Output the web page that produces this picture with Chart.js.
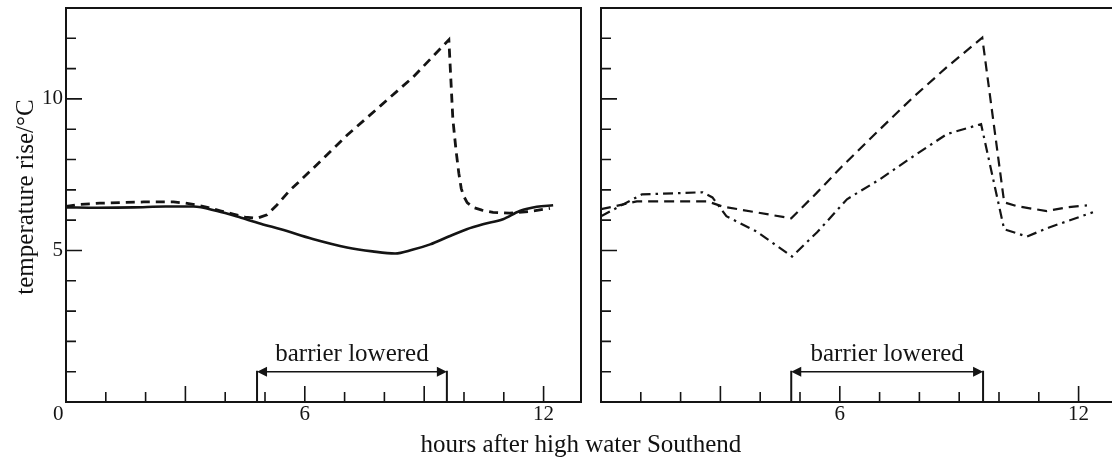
<!DOCTYPE html>
<html>
<head>
<meta charset="utf-8">
<script src="https://cdn.jsdelivr.net/npm/chart.js@4.4.1/dist/chart.umd.min.js"></script>
<style>
  html, body { margin: 0; padding: 0; background: #fff; overflow: hidden; }
  #wrap { position: relative; width: 1112px; height: 457px; overflow: hidden; }
  canvas { position: absolute; top: 0; }
  #chartLeft { left: 0; }
  #chartRight { left: 590px; }
  .axis-title { position: absolute; font-family: "Liberation Serif", serif; font-size: 25px; color: #111; white-space: nowrap; text-align: center; }
  #xTitle { left: 381px; top: 431px; width: 400px; line-height: 25px; }
  #yTitle { left: -125px; top: 182px; width: 300px; height: 30px; line-height: 30px; transform: rotate(-90deg); }
</style>
</head>
<body>
<div id="wrap">
  <canvas id="chartLeft" width="590" height="457"></canvas>
  <canvas id="chartRight" width="535" height="457"></canvas>
  <div id="yTitle" class="axis-title">temperature rise/°C</div>
  <div id="xTitle" class="axis-title">hours after high water Southend</div>
</div>
<script>
// left panel: solid and dashed
const leftSolidHours = [0, 0.8, 1.7, 2.5, 3.2, 3.8, 4.4, 4.95, 5.4, 6.2, 7.06, 7.7, 8.27, 8.7, 9.15, 9.6, 10.07, 10.5, 10.98, 11.4, 11.83, 12.24];
const leftSolidTemp  = [6.42, 6.41, 6.42, 6.45, 6.45, 6.3, 6.08, 5.86, 5.7, 5.38, 5.1, 4.97, 4.9, 5.02, 5.2, 5.45, 5.7, 5.87, 6.03, 6.3, 6.44, 6.49];

const leftDashHours = [0, 0.35, 0.85, 1.4, 1.95, 2.7, 3.0, 3.3, 3.55, 3.9, 4.2, 4.5, 4.8, 5.05, 5.3, 5.6, 6.2, 7.06, 7.9, 8.72, 9.62, 9.72, 9.8, 9.87, 9.93, 9.99, 10.08, 10.23, 10.45, 10.73, 11.15, 11.66, 12.16];
const leftDashTemp  = [6.45, 6.52, 6.56, 6.58, 6.6, 6.6, 6.56, 6.5, 6.42, 6.3, 6.2, 6.1, 6.06, 6.18, 6.5, 6.95, 7.7, 8.8, 9.77, 10.72, 11.95, 9.34, 8.3, 7.55, 7.05, 6.8, 6.58, 6.42, 6.33, 6.26, 6.23, 6.29, 6.39];

// right panel: dashed and dash-dot
const rightDashHours = [0, 0.9, 2.68, 3.05, 4.78, 5.42, 6.06, 6.93, 7.84, 8.69, 9.58, 10.13, 10.45, 11.2, 11.7, 12.21];
const rightDashTemp  = [6.36, 6.62, 6.62, 6.45, 6.06, 6.9, 7.78, 8.9, 10.05, 11.05, 12.02, 6.59, 6.46, 6.3, 6.42, 6.49];

const rightDotHours = [0, 1.03, 2.55, 2.8, 3.15, 3.9, 4.8, 5.43, 6.18, 7.01, 7.84, 8.69, 9.55, 10.13, 10.7, 11.26, 12.36];
const rightDotTemp  = [6.13, 6.85, 6.92, 6.75, 6.13, 5.63, 4.8, 5.6, 6.69, 7.35, 8.1, 8.84, 9.17, 5.7, 5.46, 5.76, 6.26];

// axes
const hourTicks = [1, 2, 3, 4, 5, 6, 7, 8, 9, 10, 11, 12];
const tempTicks = [1, 2, 3, 4, 5, 6, 7, 8, 9, 10, 11, 12];
const leftXLabels = [0, 6, 12];
const rightXLabels = [6, 12];
const leftYLabels = [5, 10];
const hourMax = 12.94;
const tempMax = 13;
const leftBarrier = [4.8, 9.57];
const rightBarrier = [4.78, 9.6];

const ink = '#141414';
const tickFont = { family: '"Liberation Serif", serif', size: 21 };

function toPoints(xs, ys) {
    return xs.map((h, i) => ({ x: h, y: ys[i] }));
}

// box, inward ticks and the barrier arrow
const framePlugin = {
    id: 'frame',
    afterDraw(chart, args, opts) {
        const { ctx, chartArea: a, scales: { x, y } } = chart;
        ctx.save();
        ctx.strokeStyle = ink;
        ctx.fillStyle = ink;
        ctx.lineWidth = 2;
        ctx.strokeRect(a.left, a.top, a.right - a.left, a.bottom - a.top);

        ctx.lineWidth = 1.6;
        ctx.beginPath();
        hourTicks.forEach(v => {
            const px = x.getPixelForValue(v);
            const len = opts.majorX.includes(v) ? 16 : 10;
            ctx.moveTo(px, a.bottom);
            ctx.lineTo(px, a.bottom - len);
        });
        tempTicks.forEach(v => {
            const py = y.getPixelForValue(v);
            const len = v % 5 === 0 ? 16 : 10;
            ctx.moveTo(a.left, py);
            ctx.lineTo(a.left + len, py);
        });
        ctx.stroke();

        const x0 = x.getPixelForValue(opts.barrier[0]);
        const x1 = x.getPixelForValue(opts.barrier[1]);
        const ya = y.getPixelForValue(1);
        ctx.lineWidth = 2;
        ctx.beginPath();
        ctx.moveTo(x0, a.bottom); ctx.lineTo(x0, ya - 1);
        ctx.moveTo(x1, a.bottom); ctx.lineTo(x1, ya - 1);
        ctx.stroke();
        ctx.lineWidth = 1.4;
        ctx.beginPath();
        ctx.moveTo(x0 + 6, ya); ctx.lineTo(x1 - 6, ya);
        ctx.stroke();
        ctx.beginPath();
        ctx.moveTo(x0, ya); ctx.lineTo(x0 + 10, ya - 5); ctx.lineTo(x0 + 10, ya + 5); ctx.closePath();
        ctx.moveTo(x1, ya); ctx.lineTo(x1 - 10, ya - 5); ctx.lineTo(x1 - 10, ya + 5); ctx.closePath();
        ctx.fill();

        ctx.font = '25px "Liberation Serif", serif';
        ctx.textAlign = 'center';
        ctx.textBaseline = 'alphabetic';
        ctx.fillText('barrier lowered', (x0 + x1) / 2, ya - 11);
        ctx.restore();
    }
};

// the "0" sits a little left of the axis corner in the original
function hourLabel(v, labels) {
    if (!labels.includes(v)) return null;
    return v === 0 ? '0   ' : String(v);
}

function makeChart(canvas, datasets, cfg) {
    return new Chart(canvas, {
        type: 'line',
        data: { datasets: datasets },
        options: {
            responsive: false,
            animation: false,
            layout: { padding: { top: 8, right: 9, left: 0, bottom: 0 } },
            elements: { point: { radius: 0 } },
            plugins: {
                legend: { display: false },
                tooltip: { enabled: false },
                frame: { majorX: cfg.majorX, barrier: cfg.barrier }
            },
            scales: {
                x: {
                    type: 'linear',
                    min: 0,
                    max: hourMax,
                    afterFit: s => { s.height = 55; s.paddingLeft = 0; s.paddingRight = 0; },
                    grid: { display: false, drawTicks: false },
                    border: { display: false },
                    ticks: {
                        stepSize: 1,
                        includeBounds: false,
                        autoSkip: false,
                        maxRotation: 0,
                        padding: 0,
                        color: ink,
                        font: tickFont,
                        callback: v => hourLabel(v, cfg.xLabels)
                    }
                },
                y: {
                    min: 0,
                    max: tempMax,
                    afterFit: s => { s.width = cfg.yWidth; s.paddingTop = 0; s.paddingBottom = 0; },
                    grid: { display: false, drawTicks: false },
                    border: { display: false },
                    ticks: {
                        stepSize: 1,
                        includeBounds: false,
                        autoSkip: false,
                        padding: 3,
                        color: ink,
                        font: tickFont,
                        callback: v => cfg.yLabels.includes(v) ? String(v) : null
                    }
                }
            }
        },
        plugins: [framePlugin]
    });
}

let leftChart = makeChart(document.getElementById('chartLeft'), [
    {
        data: toPoints(leftSolidHours, leftSolidTemp),
        borderColor: ink,
        borderWidth: 2.6,
        cubicInterpolationMode: 'monotone'
    },
    {
        data: toPoints(leftDashHours, leftDashTemp),
        borderColor: ink,
        borderWidth: 2.8,
        borderDash: [9, 6],
        tension: 0
    }
], { xLabels: leftXLabels, yLabels: leftYLabels, yWidth: 66, majorX: [3, 6, 9, 12], barrier: leftBarrier });

let rightChart = makeChart(document.getElementById('chartRight'), [
    {
        data: toPoints(rightDashHours, rightDashTemp),
        borderColor: ink,
        borderWidth: 2.2,
        borderDash: [10, 6],
        tension: 0
    },
    {
        data: toPoints(rightDotHours, rightDotTemp),
        borderColor: ink,
        borderWidth: 2.2,
        borderDash: [10, 5, 2.5, 5],
        tension: 0
    }
], { xLabels: rightXLabels, yLabels: [], yWidth: 11, majorX: [3, 6, 12], barrier: rightBarrier });
</script>
</body>
</html>
